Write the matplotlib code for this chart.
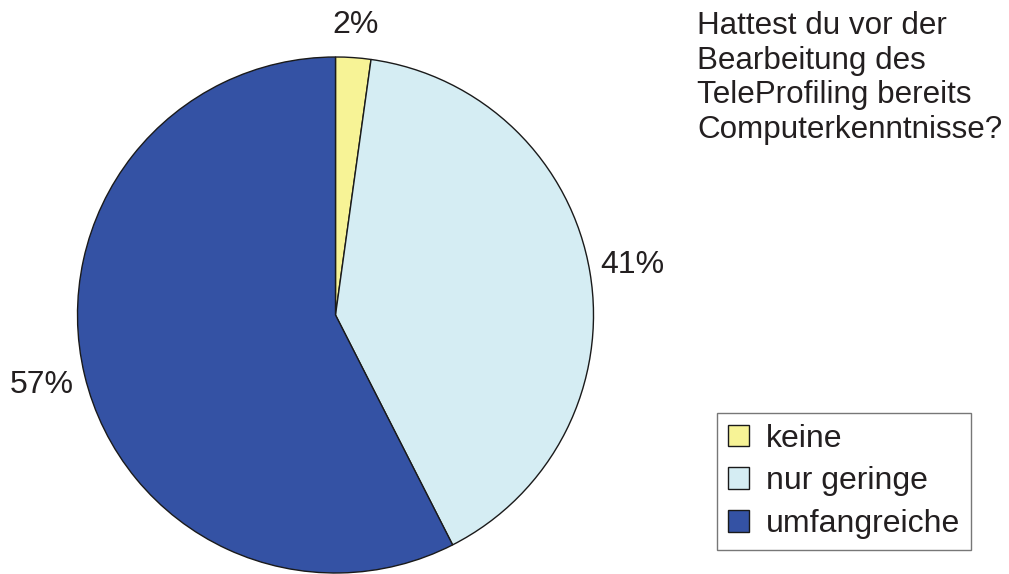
import matplotlib
matplotlib.use("Agg")
import matplotlib.pyplot as plt
import numpy as np

# Anteile in Prozent
categories = ["keine", "nur geringe", "umfangreiche"]
shares = [2.2, 40.3, 57.5]
pct_labels = ["2%", "41%", "57%"]
colors = ["#F7F396", "#D5EDF3", "#3452A4"]
title = "Hattest du vor der\nBearbeitung des\nTeleProfiling bereits\nComputerkenntnisse?"

plt.rcParams["font.family"] = ["Liberation Sans", "DejaVu Sans"]

W, H = 1009, 574
fig = plt.figure(figsize=(W / 100, H / 100), dpi=100)

# pie placement in pixels: centre and radius
cx, cy, r = 335.5, 315, 258
pad = 1.02
ax = fig.add_axes([(cx - r * pad) / W, (H - cy - r * pad) / H, 2 * r * pad / W, 2 * r * pad / H])

wedges, _ = ax.pie(shares, colors=colors, startangle=90, counterclock=False,
                   wedgeprops=dict(edgecolor="#1a1a1a", linewidth=1.0))
ax.set_xlim(-pad, pad)
ax.set_ylim(-pad, pad)
ax.set_aspect("equal")
ax.axis("off")

# percentage labels outside the wedges
label_dist = [1.125, 1.165, 1.17]
for w, lab, d in zip(wedges, pct_labels, label_dist):
    mid = np.deg2rad((w.theta1 + w.theta2) / 2)
    ax.text(d * np.cos(mid), d * np.sin(mid), lab, ha="center", va="center",
            fontsize=23, color="#231f20")

fig.text(697 / W, 1 - 11 / H, title, ha="left", va="top", fontsize=22.6,
         color="#231f20", linespacing=1.2)

leg = fig.legend(wedges, categories, loc="upper left",
                 bbox_to_anchor=(717 / W, 1 - 413 / H), fontsize=23,
                 frameon=True, fancybox=False, edgecolor="#555555",
                 handlelength=0.66, handleheight=0.66, handletextpad=0.55,
                 labelspacing=0.4, borderpad=0.33, borderaxespad=0)
leg.get_frame().set_linewidth(1.0)
for t in leg.get_texts():
    t.set_color("#231f20")

fig.savefig("out.png", dpi=100)
